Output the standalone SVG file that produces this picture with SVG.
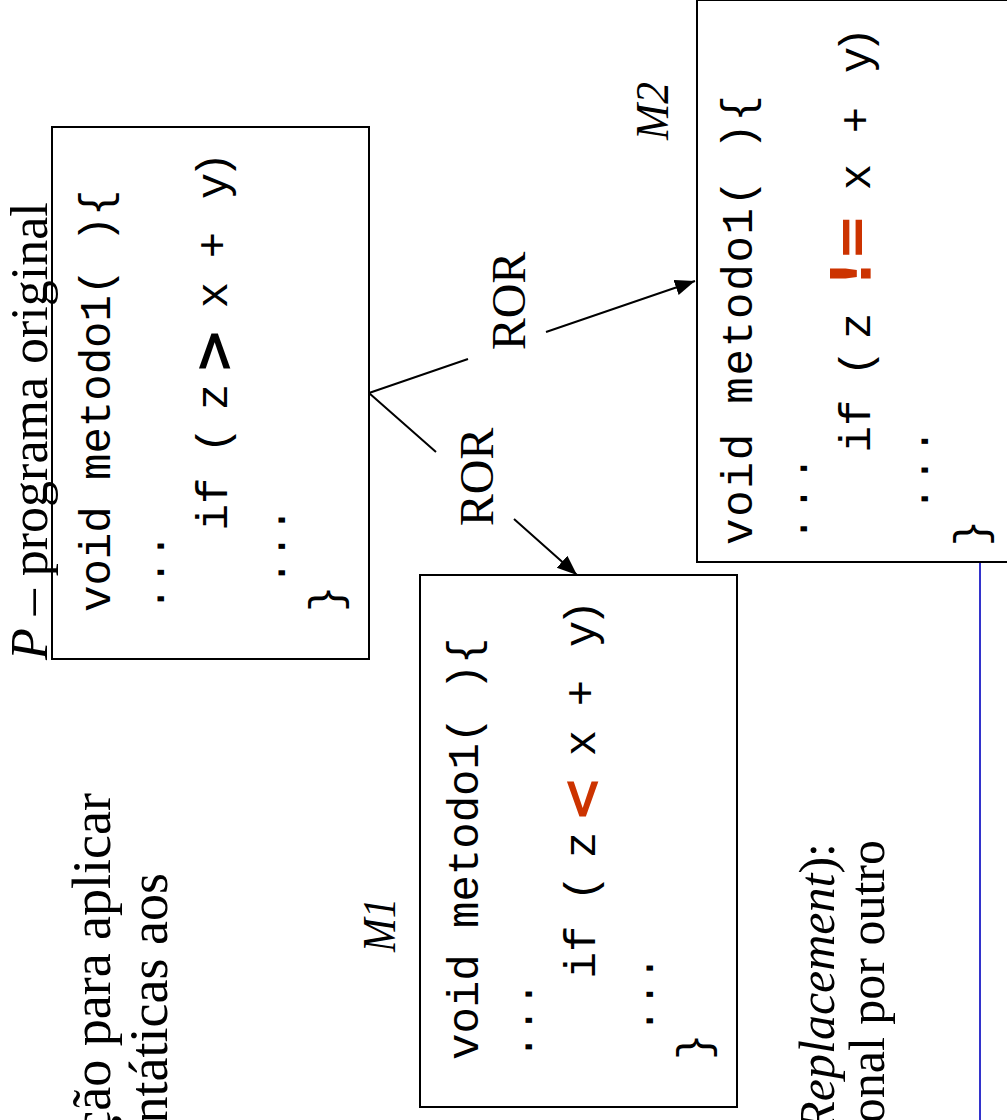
<svg xmlns="http://www.w3.org/2000/svg" width="1007" height="1120" viewBox="0 0 1007 1120">
<defs>
<style>
.box{fill:#fff;stroke:#000;stroke-width:2}
.mono{font-family:"Liberation Mono","Courier New",monospace;font-size:44px;fill:#000}
.c{text-anchor:middle}
.serif{font-family:"Liberation Serif","Times New Roman",serif;fill:#000}
.op{font-family:"DejaVu Sans",Verdana,sans-serif;font-weight:bold;font-size:56px;text-anchor:middle}
.red{fill:#cc3300}
.conn{stroke:#000;stroke-width:2;fill:none}
.lbl{font-family:"Liberation Serif","Times New Roman",serif;font-size:48px;text-anchor:middle;fill:#000}
</style>
<marker id="ah" markerUnits="userSpaceOnUse" markerWidth="22" markerHeight="18" refX="20" refY="8" orient="auto"><path d="M0,0 L20,8 L0,16 z" fill="#000"/></marker>
</defs>
<rect width="1007" height="1120" fill="#fff"/>
<g transform="translate(0,1120) rotate(-90)">
  <g id="title-left">
    <text class="serif" x="327" y="110" font-size="54" text-anchor="end">ção para aplicar</text>
    <text class="serif" x="247" y="167" font-size="54" text-anchor="end">ntáticas aos</text>
  </g>
  <g id="text-right">
    <text class="serif" x="277" y="834" font-size="50" text-anchor="end"><tspan font-style="italic">Replacement</tspan>):</text>
    <text class="serif" x="280" y="884" font-size="50" text-anchor="end">onal por outro</text>
  </g>
  <line x1="0" y1="980" x2="558" y2="980" stroke="#3333cc" stroke-width="2"/>
  <g id="P">
    <rect class="box" x="461" y="52" width="532" height="317"/>
    <text class="serif" x="460" y="47" font-size="52"><tspan font-style="italic">P</tspan> – programa original</text>
    <text class="mono" x="508" y="110">void metodo1( ){</text>
    <text class="mono" x="508" y="164">...</text>
    <g class="mono c">
      <text x="616" y="227">if</text>
      <text x="680" y="227">(</text>
      <text x="723" y="227">z</text>
      <text x="825" y="227">x</text>
      <text x="875" y="227">+</text>
      <text x="934" y="227">y</text>
      <text x="955" y="227">)</text>
    </g>
    <text class="op" x="769" y="232">&gt;</text>
    <text class="mono" x="534" y="285">...</text>
    <text class="mono" x="508" y="340">}</text>
  </g>
  <g id="M1">
    <text class="serif" x="168" y="395" font-size="46" font-style="italic" textLength="54" lengthAdjust="spacingAndGlyphs">M1</text>
    <g transform="translate(-448,368)">
      <rect class="box" x="461" y="52" width="532" height="317"/>
      <text class="mono" x="508" y="110">void metodo1( ){</text>
      <text class="mono" x="508" y="164">...</text>
      <g class="mono c">
        <text x="616" y="227">if</text>
        <text x="680" y="227">(</text>
        <text x="723" y="227">z</text>
        <text x="825" y="227">x</text>
        <text x="875" y="227">+</text>
        <text x="934" y="227">y</text>
        <text x="955" y="227">)</text>
      </g>
      <text class="op red" x="769" y="232">&lt;</text>
      <text class="mono" x="534" y="285">...</text>
      <text class="mono" x="508" y="340">}</text>
    </g>
  </g>
  <g id="M2">
    <rect class="box" x="558" y="697" width="562" height="340"/>
    <text class="serif" x="980" y="668" font-size="46" font-style="italic" textLength="58" lengthAdjust="spacingAndGlyphs">M2</text>
    <text class="mono" x="575" y="752" textLength="450">void metodo1( ){</text>
    <text class="mono" x="578" y="807" textLength="87">...</text>
    <g class="mono c">
      <text x="694" y="870">if</text>
      <text x="757" y="870">(</text>
      <text x="794" y="870">z</text>
      <text x="943" y="870">x</text>
      <text x="1000" y="870">+</text>
      <text x="1060" y="870">y</text>
      <text x="1080" y="870">)</text>
    </g>
    <text class="op red" x="870" y="870" font-size="48">!=</text>
    <text class="mono" x="608" y="928" textLength="84">...</text>
    <text class="mono c" x="587" y="985">}</text>
  </g>
  <g id="connectors">
    <path class="conn" d="M727,369 L761,468 M788,546 L839,695" marker-end="url(#ah)"/>
    <path class="conn" d="M727,369 L668,436 M601,514 L545,577" marker-end="url(#ah)"/>
    <text class="lbl" x="819" y="525">ROR</text>
    <text class="lbl" x="643" y="493">ROR</text>
  </g>
</g>
</svg>
